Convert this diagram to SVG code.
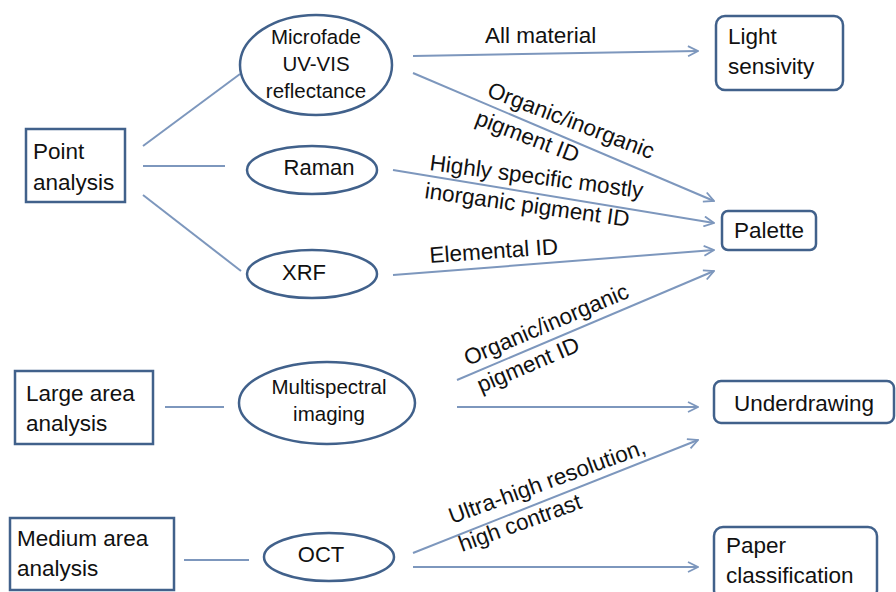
<svg xmlns="http://www.w3.org/2000/svg" width="896" height="592" viewBox="0 0 896 592">
<defs>
<style>
.box{fill:#fff;stroke:#41618b;stroke-width:2.5}
.oval{fill:#fff;stroke:#41618b;stroke-width:2.5}
.t{font-family:"Liberation Sans",Arial,sans-serif;font-size:22.5px;fill:#111}
.ts{font-family:"Liberation Sans",Arial,sans-serif;font-size:20.5px;fill:#111;text-anchor:middle}
.c{stroke:#7d97bd;stroke-width:2;fill:none}
.a{marker-end:url(#arr)}
</style>
<marker id="arr" viewBox="0 0 12 12" refX="11" refY="6" markerWidth="12" markerHeight="12" markerUnits="userSpaceOnUse" orient="auto">
<path d="M1,1 L11,6 L1,11" fill="none" stroke="#7d97bd" stroke-width="1.8"/>
</marker>
</defs>
<rect width="896" height="592" fill="#fff"/>

<g id="connectors">
<line class="c" x1="143" y1="146" x2="240" y2="74"/>
<line class="c" x1="143" y1="166" x2="225" y2="166"/>
<line class="c" x1="143" y1="195" x2="241" y2="271"/>
<line class="c" x1="165" y1="407" x2="224" y2="407"/>
<line class="c" x1="184" y1="560" x2="249" y2="560"/>
<line class="c a" x1="413" y1="56" x2="698" y2="51"/>
<line class="c a" x1="413" y1="73" x2="714" y2="201"/>
<line class="c a" x1="393" y1="170" x2="714" y2="223"/>
<line class="c a" x1="393" y1="275" x2="714" y2="250"/>
<line class="c a" x1="457" y1="380" x2="714" y2="271"/>
<line class="c a" x1="457" y1="407" x2="698" y2="407"/>
<line class="c a" x1="413" y1="553" x2="698" y2="440"/>
<line class="c a" x1="413" y1="567" x2="698" y2="567"/>
<text class="t" x="485" y="43">All material</text>
<text class="t" transform="translate(486,96) rotate(21)">Organic/inorganic</text>
<text class="t" transform="translate(474,124) rotate(21)">pigment ID</text>
<text class="t" transform="translate(429,170) rotate(7.5)">Highly specific mostly</text>
<text class="t" transform="translate(424,198) rotate(8)">inorganic pigment ID</text>
<text class="t" transform="translate(430,263) rotate(-4)">Elemental ID</text>
<text class="t" transform="translate(468,366) rotate(-23)">Organic/inorganic</text>
<text class="t" transform="translate(481,393) rotate(-23)">pigment ID</text>
<text class="t" transform="translate(452,524) rotate(-20)">Ultra-high resolution,</text>
<text class="t" transform="translate(462,552) rotate(-20)">high contrast</text>
</g>

<g id="point-analysis">
<rect class="box" x="26" y="129" width="99" height="73"/>
<text class="t" x="33" y="159">Point</text>
<text class="t" x="33" y="190">analysis</text>
</g>
<g id="large-area-analysis">
<rect class="box" x="15" y="371" width="138" height="73"/>
<text class="t" x="26" y="401">Large area</text>
<text class="t" x="26" y="431">analysis</text>
</g>
<g id="medium-area-analysis">
<rect class="box" x="10" y="518" width="164" height="72"/>
<text class="t" x="17" y="546">Medium area</text>
<text class="t" x="17" y="576">analysis</text>
</g>

<g id="microfade">
<ellipse class="oval" cx="316" cy="65" rx="76" ry="50"/>
<text class="ts" x="316" y="44">Microfade</text>
<text class="ts" x="316" y="71">UV-VIS</text>
<text class="ts" x="316" y="98">reflectance</text>
</g>
<g id="raman">
<ellipse class="oval" cx="312" cy="170" rx="65" ry="24"/>
<text class="ts" x="319" y="175" style="font-size:22px">Raman</text>
</g>
<g id="xrf">
<ellipse class="oval" cx="312" cy="274" rx="65" ry="24"/>
<text class="ts" x="304" y="280" style="font-size:22px">XRF</text>
</g>
<g id="multispectral">
<ellipse class="oval" cx="327" cy="403" rx="88" ry="41"/>
<text class="ts" x="329" y="394">Multispectral</text>
<text class="ts" x="329" y="421">imaging</text>
</g>
<g id="oct">
<ellipse class="oval" cx="329" cy="557" rx="65" ry="24"/>
<text class="ts" x="321" y="562" style="font-size:22px">OCT</text>
</g>

<g id="light-sensivity">
<rect class="box" x="716" y="16" width="127" height="74" rx="9"/>
<text class="t" x="728" y="44">Light</text>
<text class="t" x="728" y="74">sensivity</text>
</g>
<g id="palette">
<rect class="box" x="722" y="211" width="94" height="39" rx="6"/>
<text class="t" x="769" y="238" text-anchor="middle">Palette</text>
</g>
<g id="underdrawing">
<rect class="box" x="714" y="381" width="180" height="42" rx="7"/>
<text class="t" x="734" y="411">Underdrawing</text>
</g>
<g id="paper-classification">
<rect class="box" x="714" y="527" width="163" height="72" rx="9"/>
<text class="t" x="726" y="553">Paper</text>
<text class="t" x="726" y="583">classification</text>
</g>
</svg>
